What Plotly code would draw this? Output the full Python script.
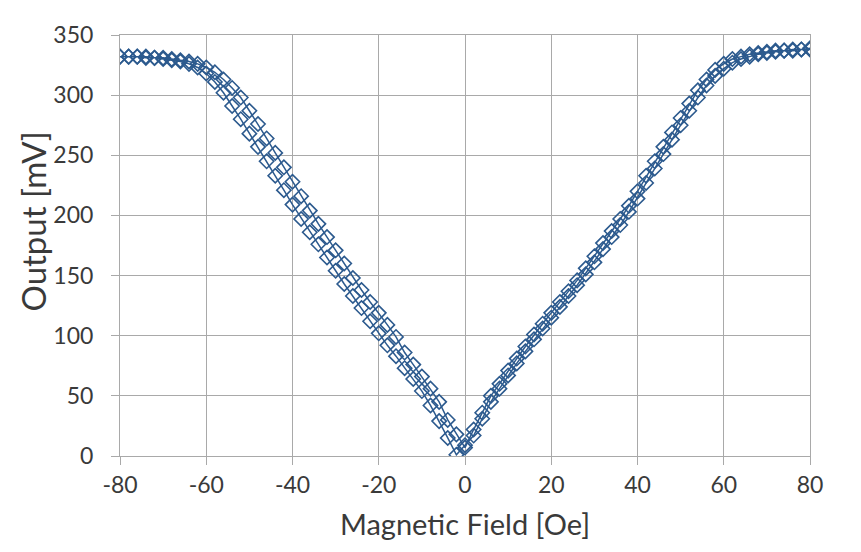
import plotly.graph_objects as go

# Magnetic field sweep points [Oe]
field_oe = [-80, -78, -76, -74, -72, -70, -68, -66, -64, -62, -60, -58, -56, -54, -52,
            -50, -48, -46, -44, -42, -40, -38, -36, -34, -32, -30, -28, -26, -24, -22,
            -20, -18, -16, -14, -12, -10, -8, -6, -4, -2, 0, 2, 4, 6, 8,
            10, 12, 14, 16, 18, 20, 22, 24, 26, 28, 30, 32, 34, 36, 38,
            40, 42, 44, 46, 48, 50, 52, 54, 56, 58, 60, 62, 64, 66, 68,
            70, 72, 74, 76, 78, 80]

# Output on the downward sweep (+80 -> -80), listed in ascending field order [mV]
output_down = [332, 332, 332, 331, 331, 330, 329, 328, 326, 323, 318, 311, 302, 291, 280,
               268, 257, 245, 233, 221, 209, 197, 186, 176, 165, 154, 143, 133, 123, 112,
               102, 92, 83, 73, 64, 54, 42, 29, 15, 1, 9, 17, 31, 45, 56,
               67, 77, 87, 97, 106, 115, 124, 133, 142, 151, 161, 172, 182, 192, 203,
               214, 227, 239, 251, 263, 275, 287, 298, 308, 316, 322, 327, 330, 332, 334,
               335, 336, 337, 337, 338, 338]

# Output on the upward sweep (-80 -> +80) [mV]
output_up = [332, 332, 332, 332, 331, 331, 330, 329, 328, 326, 323, 319, 313, 306, 298,
             287, 276, 264, 252, 240, 228, 216, 204, 193, 182, 171, 160, 148, 138, 128,
             119, 109, 99, 86, 76, 66, 56, 45, 30, 18, 7, 22, 36, 50, 60,
             71, 81, 91, 101, 110, 119, 128, 137, 146, 156, 166, 177, 187, 197, 208,
             220, 233, 245, 257, 269, 281, 293, 304, 313, 321, 326, 330, 332, 334, 335,
             336, 337, 337, 338, 338, 339]

x_ticks = [-80, -60, -40, -20, 0, 20, 40, 60, 80]
y_ticks = [0, 50, 100, 150, 200, 250, 300, 350]

# full loop: down sweep then up sweep
loop_x = list(reversed(field_oe)) + field_oe
loop_y = list(reversed(output_down)) + output_up

color = "#2C5A8E"
grid = "#A9A9A9"
text_color = "#3A3A3A"
font_family = "Lato, 'Liberation Sans', sans-serif"

fig = go.Figure()
fig.add_trace(go.Scatter(
    x=loop_x, y=loop_y, mode="lines+markers",
    line=dict(color=color, width=1.5),
    marker=dict(symbol="diamond-open", size=11, color=color, line=dict(width=1.6, color=color)),
    showlegend=False,
))

fig.update_layout(
    width=853, height=544,
    margin=dict(l=112, r=51, t=25, b=96),
    paper_bgcolor="white", plot_bgcolor="white",
    font=dict(family=font_family, color=text_color),
    xaxis=dict(
        range=[-80, 80], tickvals=x_ticks, ticktext=[str(v) for v in x_ticks],
        showgrid=True, gridcolor=grid, gridwidth=1, zeroline=False,
        showline=True, linecolor=grid, linewidth=1, mirror=True,
        ticks="outside", ticklen=8, tickcolor=grid, ticklabelstandoff=0,
        tickfont=dict(size=23, family=font_family, color=text_color),
        title=dict(text="Magnetic Field [Oe]", font=dict(size=29, family=font_family, color=text_color), standoff=18),
    ),
    yaxis=dict(
        range=[0, 350], tickvals=y_ticks, ticktext=[str(v) for v in y_ticks],
        showgrid=True, gridcolor=grid, gridwidth=1, zeroline=False,
        showline=True, linecolor=grid, linewidth=1, mirror=True,
        ticks="outside", ticklen=8, tickcolor=grid, ticklabelstandoff=13,
        tickfont=dict(size=23, family=font_family, color=text_color),
    ),
    annotations=[dict(
        text="Output [mV]", xref="paper", yref="paper", x=-0.1275, y=0.557,
        xanchor="center", yanchor="middle", textangle=-90, showarrow=False,
        font=dict(size=33, family=font_family, color=text_color),
    )],
)

fig.write_html("out.html")
